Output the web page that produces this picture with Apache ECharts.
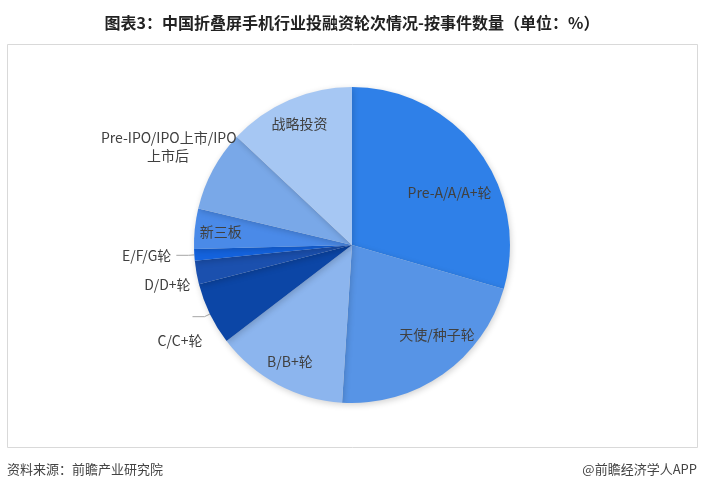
<!DOCTYPE html>
<html>
<head>
<meta charset="utf-8">
<script src="https://cdn.jsdelivr.net/npm/echarts@6/dist/echarts.min.js"></script>
<style>
html,body{margin:0;padding:0;background:#fff;}
#main{width:704px;height:494px;}
</style>
</head>
<body>
<div id="main"></div>
<script>
var titleText = '图表3：中国折叠屏手机行业投融资轮次情况-按事件数量（单位：%）';
var sourceText = '资料来源：前瞻产业研究院';
var brandText = '@前瞻经济学人APP';

var categories = ['Pre-A/A/A+轮', '天使/种子轮', 'B/B+轮', 'C/C+轮', 'D/D+轮', 'E/F/G轮', '新三板', 'Pre-IPO/IPO上市/IPO上市后', '战略投资'];
var values = [29.5, 21.5, 13.6, 6.4, 2.4, 1.2, 4.1, 8.3, 13.0];
var colors = ['#2f80e8', '#5794e6', '#8cb5ee', '#0c46a6', '#1b50ae', '#1463de', '#4a8ae8', '#79a8e8', '#a6c7f3'];
var outsideItems = ['C/C+轮', 'D/D+轮', 'E/F/G轮', 'Pre-IPO/IPO上市/IPO上市后'];
var noLineItems = ['D/D+轮', 'Pre-IPO/IPO上市/IPO上市后'];

var labelFont = {fontFamily: 'Noto Sans CJK SC', fontSize: 14, color: '#404040'};

var mainData = categories.map(function (c, i) {
  var isOut = outsideItems.indexOf(c) >= 0;
  return {
    name: c, value: values[i],
    itemStyle: {color: colors[i]},
    label: {show: isOut},
    labelLine: {show: isOut && noLineItems.indexOf(c) < 0}
  };
});
var overlayData = categories.map(function (c, i) {
  var isOut = outsideItems.indexOf(c) >= 0;
  return {name: c, value: values[i], label: {show: !isOut}};
});

var chart = echarts.init(document.getElementById('main'), null, {renderer: 'canvas'});
chart.setOption({
  backgroundColor: '#ffffff',
  animation: false,
  title: {
    text: titleText, left: 'center', top: 10,
    textStyle: {fontFamily: 'Noto Sans CJK SC', fontSize: 16, fontWeight: 'bold', color: '#222'}
  },
  graphic: [
    {type: 'rect', shape: {x: 7.5, y: 44.5, width: 690, height: 403}, style: {fill: 'none', stroke: '#d9d9d9', lineWidth: 1}, silent: true, z: -1},
    {type: 'text', left: 7, top: 463, style: {text: sourceText, font: '13px "Noto Sans CJK SC"', fill: '#444'}},
    {type: 'text', right: 7, top: 463, style: {text: brandText, font: '13px "Noto Sans CJK SC"', fill: '#444'}}
  ],
  series: [
    {
      type: 'pie', center: [352, 245], radius: [0, 158], startAngle: 90, clockwise: true,
      avoidLabelOverlap: true,
      itemStyle: {shadowBlur: 6, shadowColor: 'rgba(0,0,0,0.18)', shadowOffsetX: 1, shadowOffsetY: 2},
      label: Object.assign({
        position: 'outside',
        formatter: function (p) {
          var n = p.name;
          var k = n.indexOf('IPO上市后');
          if (k > 0) return '{a|' + n.slice(0, k + 3) + '}\n{b|' + n.slice(k + 3) + '}';
          return n;
        },
        rich: {
          a: {fontFamily: 'Noto Sans CJK SC', fontSize: 14, color: '#404040', lineHeight: 18},
          b: {fontFamily: 'Noto Sans CJK SC', fontSize: 14, color: '#404040', lineHeight: 18, width: 137, align: 'center'}
        }
      }, labelFont),
      labelLine: {length: 6, length2: 12, lineStyle: {color: '#a6a6a6', width: 1}},
      labelLayout: function (p) {
        if (p.dataIndex === 3) return {dx: 15, dy: 24};
        if (p.dataIndex === 4) return {dx: 17, dy: 11};
        if (p.dataIndex === 7) return {dx: 46, dy: -21};
        return {};
      },
      data: mainData,
      silent: true
    },
    {
      type: 'pie', center: [352, 245], radius: [100, 158], startAngle: 90, clockwise: true,
      itemStyle: {color: 'rgba(0,0,0,0)'},
      label: Object.assign({position: 'inside'}, labelFont),
      labelLine: {show: false},
      labelLayout: function (p) {
        if (p.dataIndex === 0) return {dx: -8, dy: 27};
        if (p.dataIndex === 1) return {dx: 9, dy: -18};
        return {};
      },
      data: overlayData,
      silent: true
    }
  ]
});
</script>
</body>
</html>
